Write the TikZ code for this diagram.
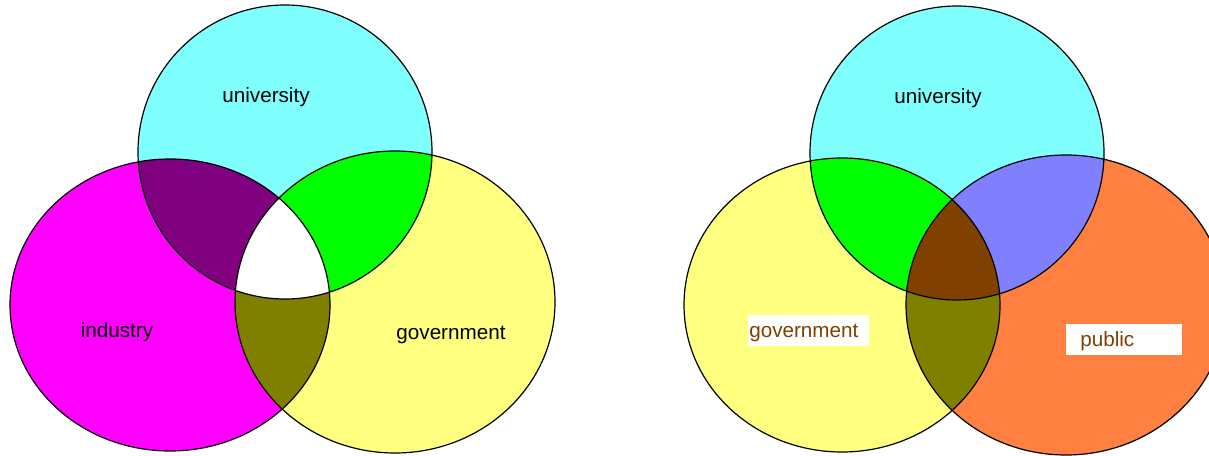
\documentclass[tikz,border=0pt]{standalone}
\usepackage{fontspec}
\setmainfont{Liberation Sans}
\usepackage{xcolor}
\usepackage{tikz}
\usetikzlibrary{positioning}

\definecolor{univcol}{HTML}{80FFFF}
\definecolor{indcol}{HTML}{FF00FF}
\definecolor{govcol}{HTML}{FFFF80}
\definecolor{pubcol}{HTML}{FF8040}
\definecolor{uicol}{HTML}{800080}
\definecolor{ugcol}{HTML}{00FF00}
\definecolor{igcol}{HTML}{808000}
\definecolor{upcol}{HTML}{8080FF}
\definecolor{allcol}{HTML}{804000}

% the sets, in pixel units
\def\univL{(285,152) ellipse [x radius=147, y radius=147]}
\def\indL{(170,305) ellipse [x radius=160, y radius=146]}
\def\govL{(395,302) ellipse [x radius=160, y radius=151]}
\def\univR{(957,153) ellipse [x radius=147, y radius=147]}
\def\govR{(842,305) ellipse [x radius=158, y radius=147]}
\def\pubR{(1066,305) ellipse [x radius=160, y radius=150]}

\begin{document}
\begin{tikzpicture}[x=0.75pt, y=-0.75pt,
  set/.style={draw=black, line width=0.9pt},
  label/.style={font=\fontsize{15.5}{18}\selectfont, anchor=base, inner sep=0pt},
  tag/.style={label, fill=white, text=allcol, align=left, anchor=base west,
    inner ysep=0pt, text height=22.5pt*0.75, text depth=8.5pt*0.75}]
  \useasboundingbox (0,0) rectangle (1209,456);
  \clip (0,0) rectangle (1209,456);

  % university / industry / government
  \fill[univcol] \univL;
  \fill[indcol] \indL;
  \fill[govcol] \govL;
  \begin{scope}
    \clip \univL;
    \fill[uicol] \indL;
    \fill[ugcol] \govL;
  \end{scope}
  \begin{scope}
    \clip \indL;
    \fill[igcol] \govL;
  \end{scope}
  \begin{scope}
    \clip \univL; \clip \indL;
    \fill[white] \govL;
  \end{scope}
  \path[set] \univL \indL \govL;

  \node[label] (univL) at (266,103) {university};
  \node[label] (indL) at (117,337) {industry};
  \node[label] (govL) at (451,339) {government};

  % university / government / public
  \fill[univcol] \univR;
  \fill[govcol] \govR;
  \fill[pubcol] \pubR;
  \begin{scope}
    \clip \univR;
    \fill[ugcol] \govR;
    \fill[upcol] \pubR;
  \end{scope}
  \begin{scope}
    \clip \govR;
    \fill[igcol] \pubR;
  \end{scope}
  \begin{scope}
    \clip \univR; \clip \govR;
    \fill[allcol] \pubR;
  \end{scope}
  \path[set] \univR \govR \pubR;

  \node[label] (univR) at (938,104) {university};
  \node[tag, inner xsep=0.75pt, text width=119*0.75pt] (govR) at (748,337) {government};
  \node[tag, inner xsep=10.5pt, text width=88*0.75pt] (pubR) at (1066,346) {public};
\end{tikzpicture}
\end{document}
